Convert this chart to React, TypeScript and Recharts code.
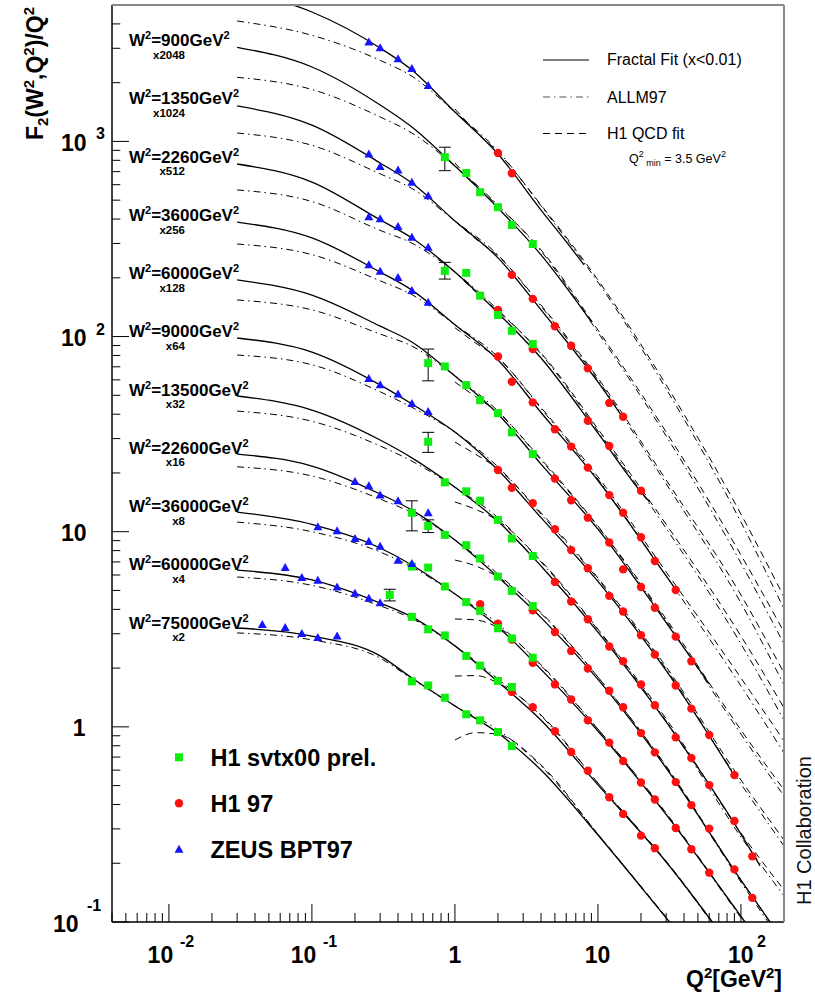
import React from 'react';
import { ComposedChart, Line, Scatter, XAxis, YAxis, ErrorBar } from 'recharts';

// ─── Frame geometry (pixels) ───────────────────────────────────────────────
const W = 815;
const H = 998;
const PL = 112; // plot left
const PT = 5; // plot top
const PR = 784; // plot right
const PB = 922; // plot bottom
const AXIS_W = 60;
const AXIS_H = 60;
const FONT = "'Liberation Sans', Arial, Helvetica, sans-serif";

// ─── Axis ticks ────────────────────────────────────────────────────────────
const X_MAJOR = [0.01, 0.1, 1, 10, 100];
const X_TICKS = [
  0.004, 0.005, 0.006, 0.007, 0.008, 0.009, 0.01,
  0.02, 0.03, 0.04, 0.05, 0.06, 0.07, 0.08, 0.09, 0.1,
  0.2, 0.3, 0.4, 0.5, 0.6, 0.7, 0.8, 0.9, 1,
  2, 3, 4, 5, 6, 7, 8, 9, 10,
  20, 30, 40, 50, 60, 70, 80, 90, 100, 200,
];
const Y_MAJOR = [0.1, 1, 10, 100, 1000];
const Y_TICKS = [
  0.1, 0.2, 0.3, 0.4, 0.5, 0.6, 0.7, 0.8, 0.9,
  1, 2, 3, 4, 5, 6, 7, 8, 9,
  10, 20, 30, 40, 50, 60, 70, 80, 90,
  100, 200, 300, 400, 500, 600, 700, 800, 900,
  1000, 2000, 3000, 4000,
];

// ─── Curve labels (top curve has its label above the frame) ────────────────
const W2_LABELS = ['900', '1350', '2260', '3600', '6000', '9000', '13500', '22600', '36000', '60000', '75000'];
const SCALE_LABELS = ['x2048', 'x1024', 'x512', 'x256', 'x128', 'x64', 'x32', 'x16', 'x8', 'x4', 'x2'];

// ─── Fractal fit (x<0.01): [Q², F2/Q² × scale] per W² bin ─────────────────
const FRACTAL: number[][][] = [
  [[0.03, 5970], [0.1, 4603], [0.3, 3010], [0.5, 2323], [1, 1415], [2, 862], [4, 445], [6.5, 284], [8, 233]],
  [[0.03, 3036], [0.1, 2406], [0.3, 1537], [0.5, 1185], [1, 748], [2, 456], [4, 262], [9, 119]],
  [[0.03, 1519], [0.1, 1213], [0.3, 775], [0.5, 612], [1, 391], [2, 253], [4, 137], [10, 58.5], [15, 38.2]],
  [[0.03, 766], [0.1, 619], [0.3, 396], [0.5, 320], [1, 214], [2, 132], [4, 77.6], [10, 32.0], [20, 16.0], [23, 14.2]],
  [[0.03, 386], [0.1, 320], [0.3, 214], [0.5, 173], [1, 115], [2, 75.8], [4, 40.8], [10, 18.3], [30, 5.93], [36, 4.91]],
  [[0.03, 195], [0.1, 163], [0.3, 113], [0.5, 93.8], [1, 62.8], [2, 40.1], [4, 22.2], [10, 10.3], [30, 3.42], [60, 1.66]],
  [[0.03, 98.3], [0.1, 83.3], [0.3, 56.5], [0.5, 45.1], [1, 32.4], [2, 20.7], [4, 11.8], [10, 5.56], [30, 1.94], [90, 0.562]],
  [[0.03, 49.6], [0.1, 42.0], [0.3, 29.5], [0.5, 23.9], [1, 16.9], [2, 11.3], [4, 6.67], [10, 3.06], [30, 1.06], [100, 0.282], [136, 0.194]],
  [[0.03, 25.0], [0.1, 21.7], [0.3, 15.6], [0.5, 12.9], [1, 9.07], [2, 5.86], [4, 3.63], [10, 1.75], [30, 0.615], [100, 0.164], [200, 0.079]],
  [[0.03, 12.6], [0.1, 10.9], [0.3, 8.25], [0.5, 6.75], [1, 4.8], [2, 3.25], [4, 1.97], [10, 0.952], [30, 0.355], [100, 0.107], [200, 0.0535]],
  [[0.03, 6.36], [0.1, 5.66], [0.3, 4.31], [0.5, 3.66], [1, 2.6], [2, 1.7], [4, 1.08], [10, 0.504], [30, 0.203], [100, 0.0639], [200, 0.0334]],
  [[0.03, 3.21], [0.1, 2.92], [0.3, 2.31], [0.5, 1.78], [1, 1.28], [2, 0.93], [4, 0.601], [10, 0.279], [30, 0.105], [100, 0.0358], [200, 0.0192]],
];

// ─── ALLM97 ────────────────────────────────────────────────────────────────
const Q2_ALLM = [0.03, 0.1, 0.3, 0.5, 1, 2, 4, 10, 30, 100, 200];
const ALLM: number[][] = [
  [4140, 3497, 2601, 2158, 1415, 893, 467, 190, 53.9, 11.2, 4.02],
  [2131, 1845, 1334, 1104, 748, 472, 274, 105, 30.9, 6.91, 2.66],
  [1104, 955, 682, 574, 391, 262, 143, 59.9, 17.6, 4.31, 1.64],
  [564, 492, 350, 301, 214, 137, 81.4, 32.8, 10.4, 2.66, 1.08],
  [298, 263, 193, 164, 115, 78.6, 42.8, 18.6, 5.93, 1.62, 0.735],
  [154, 137, 103, 89.4, 62.8, 41.5, 23.3, 10.6, 3.49, 0.919, 0.442],
  [80.4, 71.7, 52.1, 43.4, 32.4, 21.5, 12.3, 5.72, 1.98, 0.51, 0.245],
  [41.5, 36.8, 27.5, 23.0, 16.9, 11.8, 7.0, 3.14, 1.07, 0.273, 0.136],
  [21.5, 19.3, 14.7, 12.5, 9.07, 6.07, 3.81, 1.8, 0.623, 0.16, 0.0762],
  [11.2, 10.0, 7.87, 6.59, 4.8, 3.37, 2.06, 0.975, 0.358, 0.105, 0.0516],
  [5.86, 5.31, 4.17, 3.59, 2.6, 1.76, 1.14, 0.516, 0.203, 0.0624, 0.0322],
  [3.03, 2.79, 2.25, 1.76, 1.28, 0.964, 0.63, 0.282, 0.105, 0.0346, 0.0185],
];

// ─── H1 QCD fit ────────────────────────────────────────────────────────────
const Q2_QCD = [1, 1.4, 2, 4, 10, 30, 100, 200];
const QCD: number[][] = [
  [1466, 1128, 882, 472, 195, 56.5, 12.3, 4.63],
  [775, 597, 467, 278, 108, 32.4, 7.6, 3.06],
  [391, 316, 259, 145, 61.3, 18.4, 4.74, 1.89],
  [214, 169, 135, 82.4, 33.6, 10.9, 2.92, 1.25],
  [111, 92.5, 77.4, 43.3, 19.1, 6.22, 1.78, 0.846],
  [58.5, 49.1, 40.8, 23.6, 10.7, 3.57, 0.964, 0.475],
  [28.8, 24.9, 21.0, 12.5, 5.79, 2.03, 0.534, 0.263],
  [14.2, 13.0, 11.4, 7.08, 3.17, 1.1, 0.286, 0.146],
  [7.16, 6.67, 5.86, 3.85, 1.8, 0.63, 0.164, 0.079],
  [3.57, 3.53, 3.23, 2.08, 0.975, 0.362, 0.107, 0.0535],
  [1.82, 1.83, 1.68, 1.15, 0.516, 0.205, 0.0639, 0.0334],
  [0.856, 0.934, 0.915, 0.638, 0.282, 0.106, 0.0354, 0.0192],
];

// ─── Data points: [Q², value] ──────────────────────────────────────────────
const SVTX00: number[][] = [
  [1.2, 689], [1.5, 549], [2, 460], [2.5, 373], [3.5, 298],
  [1.2, 212], [1.5, 162], [2, 129], [2.5, 107], [3.5, 91.5],
  [0.85, 70.3], [1.2, 56.4], [1.5, 47.2], [2, 40.5], [2.5, 32.3], [3.5, 25.0],
  [0.85, 17.9], [1.2, 16.1], [1.5, 14.4], [2, 11.5], [2.5, 9.23], [3.5, 7.51],
  [0.85, 9.63], [1.2, 8.53], [1.5, 7.29], [2, 5.89], [2.5, 4.97], [3.5, 4.16],
  [0.5, 6.63], [0.65, 6.55], [0.85, 5.24], [1.2, 4.36], [1.5, 3.93], [2, 3.2], [2.5, 2.84], [3.5, 2.26],
  [0.5, 3.66], [0.65, 3.16], [0.85, 2.94], [1.2, 2.31], [1.5, 2.06], [2, 1.72], [2.5, 1.6],
  [0.5, 1.71], [0.65, 1.63], [0.85, 1.41], [1.2, 1.16], [1.5, 1.08], [2, 0.94], [2.5, 0.797],
];
// points drawn with their error bars: [Q², value, down, up]
const SVTX00_ERR: number[][] = [
  [0.85, 830, 122, 104],
  [0.85, 217, 20, 23],
  [0.65, 73.1, 13.8, 13.2],
  [0.65, 28.9, 3.4, 3.4],
  [0.5, 12.5, 2.4, 1.9],
  [0.65, 10.7, 0.8, 0.8],
  [0.35, 4.74, 0.32, 0.33],
];
const H1_97: number[][] = [
  [2, 873], [2.5, 687],
  [2.5, 207], [3.5, 156], [5, 113], [6.5, 89.7], [8.5, 68.7], [12, 45.7], [15, 38.8],
  [2, 137], [3.5, 86.3], [8.5, 37.0], [12, 27.5], [20, 16.2],
  [2, 79.1], [2.5, 58.7], [3.5, 46.0], [5, 33.5], [6.5, 27.3], [8.5, 21.3], [12, 15.4], [15, 12.5], [20, 9.37], [25, 7.08], [35, 5.03],
  [5, 18.7], [6.5, 14.5], [8.5, 11.8], [12, 8.8], [15, 6.41], [20, 5.21], [25, 4.08], [35, 2.9], [45, 2.17],
  [2, 20.7], [2.5, 16.8], [3.5, 14.0], [5, 10.3], [6.5, 8.05], [8.5, 6.5], [12, 4.69], [15, 3.9], [20, 2.95], [25, 2.35], [35, 1.63], [45, 1.24], [60, 0.908], [90, 0.566],
  [5, 5.53], [6.5, 4.39], [8.5, 3.56], [12, 2.58], [15, 2.17], [20, 1.65], [25, 1.29], [35, 0.883], [45, 0.692], [60, 0.503], [90, 0.329], [120, 0.217],
  [3.5, 3.96], [5, 3.06], [6.5, 2.45], [8.5, 1.99], [12, 1.53], [15, 1.26], [20, 0.929], [25, 0.74], [35, 0.521], [45, 0.397], [60, 0.301], [90, 0.186], [120, 0.133],
  [1.5, 4.25], [2, 3.38], [2.5, 2.8], [3.5, 2.13], [5, 1.65], [6.5, 1.38], [8.5, 1.08], [12, 0.83], [15, 0.668], [20, 0.519], [25, 0.424], [35, 0.303], [45, 0.236], [60, 0.179],
  [2.5, 1.51], [3.5, 1.26], [5, 0.95], [6.5, 0.743], [8.5, 0.596], [12, 0.436], [15, 0.358], [20, 0.277], [25, 0.239],
];
const ZEUS_BPT97: number[][] = [
  [0.25, 3228], [0.3, 3015], [0.4, 2650], [0.5, 2363], [0.65, 1932],
  [0.25, 863], [0.3, 743], [0.4, 714], [0.5, 618], [0.65, 527],
  [0.25, 411], [0.3, 401], [0.4, 366], [0.5, 323], [0.65, 287],
  [0.25, 233], [0.3, 216], [0.4, 201], [0.5, 172], [0.65, 150],
  [0.25, 61.0], [0.3, 56.6], [0.4, 50.7], [0.5, 45.4], [0.65, 41.3],
  [0.2, 18.1], [0.25, 17.2], [0.3, 15.4], [0.4, 14.4], [0.65, 12.5],
  [0.11, 10.6], [0.15, 10.1], [0.2, 9.23], [0.25, 8.91], [0.3, 8.43], [0.4, 7.14], [0.5, 6.87],
  [0.065, 6.55], [0.085, 5.82], [0.11, 5.64], [0.15, 5.21], [0.2, 4.84], [0.25, 4.56], [0.3, 4.33],
  [0.045, 3.35], [0.065, 3.23], [0.085, 3.01], [0.11, 2.87], [0.15, 2.92],
];

// ─── Styles ────────────────────────────────────────────────────────────────
const GREEN = '#10ee10';
const RED = '#ff1010';
const BLUE = '#1414ff';
const DASHDOT = '7 4 1.5 4';
const DASHED = '7 5';

const rows = (pts: number[][]) => pts.map(([q, v]) => ({ q, v }));

// ─── Marker shapes ─────────────────────────────────────────────────────────
const Square = (p: any) => <rect x={p.cx - 4} y={p.cy - 4} width={8} height={8} fill={GREEN} />;
const Circle = (p: any) => <circle cx={p.cx} cy={p.cy} r={4.2} fill={RED} />;
const Triangle = (p: any) => (
  <polygon points={`${p.cx},${p.cy - 4.5} ${p.cx - 4.5},${p.cy + 3.5} ${p.cx + 4.5},${p.cy + 3.5}`} fill={BLUE} />
);

// ─── Ticks (drawn inward, ROOT style) ──────────────────────────────────────
const XTick = (props: any) => {
  const { x, payload } = props;
  const v = payload.value;
  const major = X_MAJOR.includes(v);
  const lab = { fontFamily: FONT, fontWeight: 700 as const, fill: '#000' };
  return (
    <g>
      <line x1={x} x2={x} y1={PB} y2={PB - (major ? 18 : 9)} stroke="#000" strokeWidth={1} />
      {v === 0.01 || v === 0.1 ? (
        <>
          <text x={x + 4.3} y={963} textAnchor="end" fontSize={23} {...lab}>10</text>
          <text x={x + 11} y={947} fontSize={16} {...lab}>{v === 0.01 ? '-2' : '-1'}</text>
        </>
      ) : null}
      {v === 1 ? <text x={x} y={963} textAnchor="middle" fontSize={23} {...lab}>1</text> : null}
      {v === 10 ? <text x={x - 0.5} y={963} textAnchor="middle" fontSize={23} {...lab}>10</text> : null}
      {v === 100 ? (
        <>
          <text x={x + 12.6} y={963} textAnchor="end" fontSize={23} {...lab}>10</text>
          <text x={x + 16} y={947} fontSize={16} {...lab}>2</text>
        </>
      ) : null}
    </g>
  );
};

const YTick = (props: any) => {
  const { y, payload } = props;
  const v = payload.value;
  const major = Y_MAJOR.includes(v);
  const lab = { fontFamily: FONT, fontWeight: 700 as const, fill: '#000' };
  return (
    <g>
      <line x1={PL} x2={PL + (major ? 17 : 8.3)} y1={y} y2={y} stroke="#000" strokeWidth={1} />
      {v === 1000 || v === 100 ? (
        <>
          <text x={86.5} y={y + 9.5} textAnchor="end" fontSize={23} {...lab}>10</text>
          <text x={96} y={y - 2} fontSize={16} {...lab}>{v === 1000 ? '3' : '2'}</text>
        </>
      ) : null}
      {v === 10 ? <text x={86.5} y={y + 9.5} textAnchor="end" fontSize={23} {...lab}>10</text> : null}
      {v === 1 ? <text x={85.5} y={y + 9.5} textAnchor="end" fontSize={23} {...lab}>1</text> : null}
      {v === 0.1 ? (
        <>
          <text x={78.5} y={y + 9.5} textAnchor="end" fontSize={23} {...lab}>10</text>
          <text x={87} y={y - 11} fontSize={16} {...lab}>-1</text>
        </>
      ) : null}
    </g>
  );
};

// ─── Overlay: titles, curve labels, legends, top/right frame ──────────────
function Overlay() {
  const bold = { fontFamily: FONT, fontWeight: 700 as const, fill: '#000' };
  const reg = { fontFamily: FONT, fill: '#000' };
  return (
    <svg width={W} height={H} style={{ position: 'absolute', left: 0, top: 0, pointerEvents: 'none' }}>
      <line x1={PL} x2={PR} y1={PT} y2={PT} stroke="#888" strokeWidth={2} />
      <line x1={PR} x2={PR} y1={PT} y2={PB} stroke="#888" strokeWidth={2} />

      {/* y title */}
      <text transform={`translate(43,7) rotate(-90)`} textAnchor="end" fontSize={23} {...bold}>
        F<tspan fontSize={15} dy={5}>2</tspan>
        <tspan dy={-5}>(W</tspan>
        <tspan fontSize={15} dy={-9}>2</tspan>
        <tspan dy={9}>,Q</tspan>
        <tspan fontSize={15} dy={-9}>2</tspan>
        <tspan dy={9}>)/Q</tspan>
        <tspan fontSize={15} dy={-9}>2</tspan>
      </text>

      {/* x title */}
      <text x={782} y={987} textAnchor="end" fontSize={23} {...bold}>
        Q<tspan fontSize={15} dy={-9}>2</tspan>
        <tspan dy={9}>[GeV</tspan>
        <tspan fontSize={15} dy={-9}>2</tspan>
        <tspan dy={9}>]</tspan>
      </text>

      <text transform={`translate(811,905) rotate(-90)`} fontSize={20} {...reg} fill="#111">H1 Collaboration</text>

      {/* curve labels */}
      {W2_LABELS.map((w, i) => (
        <g key={w}>
          <text x={129} y={46 + 58.25 * i} fontSize={17} {...bold}>
            W<tspan fontSize={11} dy={-7}>2</tspan>
            <tspan dy={7}>={w}GeV</tspan>
            <tspan fontSize={11} dy={-7}>2</tspan>
          </text>
          <text x={185} y={59 + 58.2 * i} textAnchor="end" fontSize={11.5} {...bold}>{SCALE_LABELS[i]}</text>
        </g>
      ))}

      {/* legend: curves */}
      <line x1={543} x2={589} y1={60} y2={60} stroke="#000" strokeWidth={1.2} />
      <text x={607} y={64.5} fontSize={16} {...reg}>Fractal Fit (x&lt;0.01)</text>
      <line x1={543} x2={589} y1={97} y2={97} stroke="#555" strokeWidth={1.2} strokeDasharray={DASHDOT} />
      <text x={607} y={102.5} fontSize={16} {...reg}>ALLM97</text>
      <line x1={543} x2={589} y1={133.5} y2={133.5} stroke="#000" strokeWidth={1.2} strokeDasharray={DASHED} />
      <text x={607} y={139} fontSize={16} {...reg}>H1 QCD fit</text>
      <text x={629} y={163} fontSize={12.5} {...reg}>
        Q<tspan fontSize={9} dy={-6}>2</tspan>
        <tspan fontSize={9} dy={9}> min</tspan>
        <tspan dy={-3}> = 3.5 GeV</tspan>
        <tspan fontSize={9} dy={-6}>2</tspan>
      </text>

      {/* legend: data */}
      <rect x={175} y={753.3} width={8} height={8} fill={GREEN} />
      <text x={210.5} y={766} fontSize={23.5} {...bold}>H1 svtx00 prel.</text>
      <circle cx={179} cy={803.3} r={4.2} fill={RED} />
      <text x={210.5} y={812} fontSize={23.5} {...bold}>H1 97</text>
      <polygon points="179,844.8 174.5,852.8 183.5,852.8" fill={BLUE} />
      <text x={210.5} y={858} fontSize={23.5} {...bold}>ZEUS BPT97</text>
    </svg>
  );
}

export default function App() {
  return (
    <div style={{ position: 'absolute', left: 0, top: 0, width: W, height: H, background: '#fff' }}>
      <ComposedChart
        width={W}
        height={H}
        margin={{ top: PT, left: PL - AXIS_W, right: W - PR, bottom: H - PB - AXIS_H }}
      >
        <XAxis
          dataKey="q"
          type="number"
          scale="log"
          domain={[0.004, 200]}
          allowDataOverflow
          ticks={X_TICKS}
          interval={0}
          height={AXIS_H}
          tickLine={false}
          tick={<XTick />}
          axisLine={{ stroke: '#000', strokeWidth: 1.5 }}
        />
        <YAxis
          dataKey="v"
          type="number"
          scale="log"
          domain={[0.1, 5000]}
          allowDataOverflow
          ticks={Y_TICKS}
          interval={0}
          width={AXIS_W}
          tickLine={false}
          tick={<YTick />}
          axisLine={{ stroke: '#000', strokeWidth: 1.5 }}
        />

        {ALLM.map((vals, i) => (
          <Line
            key={`allm-${i}`}
            data={Q2_ALLM.map((q, j) => ({ q, v: vals[j] }))}
            dataKey="v"
            type="monotone"
            stroke="#000"
            strokeWidth={1}
            strokeDasharray={DASHDOT}
            dot={false}
            isAnimationActive={false}
          />
        ))}
        {QCD.map((vals, i) => (
          <Line
            key={`qcd-${i}`}
            data={Q2_QCD.map((q, j) => ({ q, v: vals[j] }))}
            dataKey="v"
            type="monotone"
            stroke="#000"
            strokeWidth={1}
            strokeDasharray={DASHED}
            dot={false}
            isAnimationActive={false}
          />
        ))}
        {FRACTAL.map((pts, i) => (
          <Line
            key={`frac-${i}`}
            data={rows(pts)}
            dataKey="v"
            type="monotone"
            stroke="#000"
            strokeWidth={1.3}
            dot={false}
            isAnimationActive={false}
          />
        ))}

        <Scatter data={rows(H1_97)} shape={Circle} isAnimationActive={false} />
        <Scatter
          data={SVTX00_ERR.map(([q, v, lo, hi]) => ({ q, v, err: [lo, hi] }))}
          shape={Square}
          isAnimationActive={false}
        >
          <ErrorBar dataKey="err" direction="y" width={6} stroke="#000" strokeWidth={1} />
        </Scatter>
        <Scatter data={rows(SVTX00)} shape={Square} isAnimationActive={false} />
        <Scatter data={rows(ZEUS_BPT97)} shape={Triangle} isAnimationActive={false} />
      </ComposedChart>
      <Overlay />
    </div>
  );
}
